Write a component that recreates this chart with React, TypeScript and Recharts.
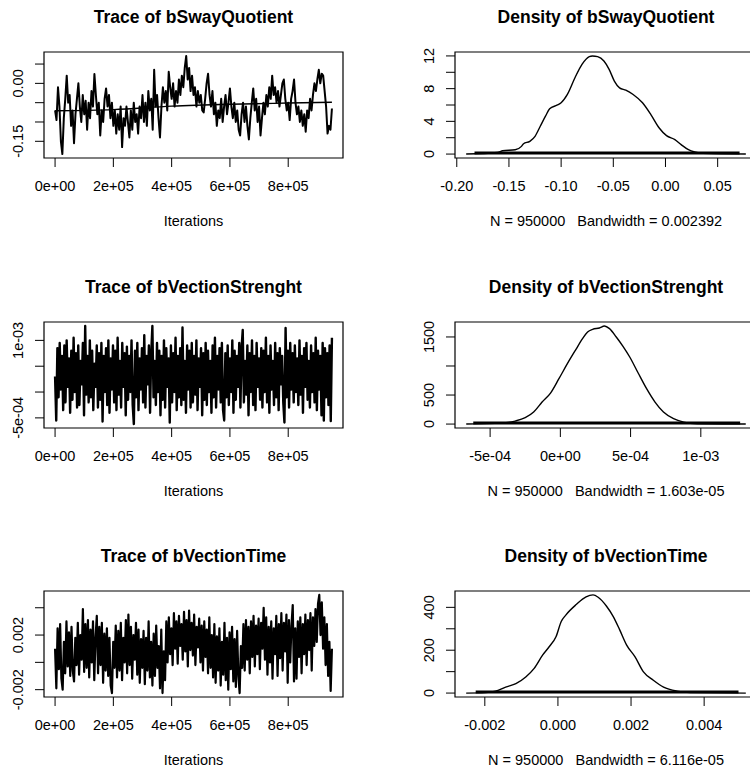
import React from "react";
import { LineChart, Line, XAxis, YAxis, ReferenceArea } from "recharts";

const FONT = '"Liberation Sans", Arial, Helvetica, sans-serif';

// MCMC trace of bSwayQuotient (one value every 5000 iterations)
const traceSway = [
  -0.07, -0.095, -0.01, -0.06, -0.15, -0.183, -0.09, -0.04, 0.02, -0.05,
  -0.03, -0.11, -0.07, -0.155, -0.08, -0.04, 0.0, -0.06, -0.1, -0.03,
  -0.08, -0.045, -0.12, -0.05, -0.09, -0.02, -0.06, 0.024, -0.03, -0.08,
  -0.05, -0.135, -0.07, -0.1, -0.04, -0.013, -0.06, -0.03, -0.09, -0.05,
  -0.11, -0.07, -0.13, -0.08, -0.12, -0.06, -0.165, -0.09, -0.11, -0.06,
  -0.1, -0.14, -0.07, -0.12, -0.05, -0.1, -0.08, -0.13, -0.06, -0.09,
  -0.03, -0.1, -0.05, -0.11, -0.02, -0.07, -0.04, -0.12, 0.035, -0.06,
  -0.03, -0.09, -0.14, -0.06, -0.01, -0.05, -0.02, -0.07, 0.03, -0.01,
  -0.04, 0.0, -0.06, -0.02, -0.05, 0.01, -0.03, 0.02, -0.01, 0.04,
  0.071, 0.01, 0.04, -0.02, 0.02, -0.03, -0.01, -0.06, -0.02, -0.05,
  -0.03, -0.07, -0.075, -0.04, 0.0, 0.025, -0.03, -0.06, -0.02, -0.08,
  -0.05, -0.11, -0.07, -0.09, -0.04, -0.1, -0.06, -0.03, -0.08, -0.05,
  -0.013, -0.06, -0.09, -0.05, -0.1, -0.07, -0.12, -0.135, -0.08, -0.05,
  -0.1, -0.06, -0.11, -0.145, -0.09, -0.05, -0.013, -0.07, -0.04, -0.1,
  -0.06, -0.135, -0.09, -0.05, -0.08, -0.03, -0.06, -0.01, -0.04, 0.02,
  -0.03, -0.01, -0.05, -0.02, -0.06, -0.03, 0.0, 0.01, -0.04, -0.07,
  -0.05, -0.095, -0.04, -0.02, 0.01, -0.05, -0.08, -0.06, -0.1, -0.07,
  -0.11, -0.08, -0.125, -0.07, -0.09, -0.04, -0.07, -0.03, 0.0, -0.02,
  0.01, 0.035, 0.0, 0.025, 0.02, -0.02, -0.06, -0.13, -0.11, -0.12, -0.065
];
const smoothSwayIter = [0, 200000, 400000, 600000, 800000, 950000];
const smoothSway = [-0.071, -0.068, -0.059, -0.054, -0.051, -0.049];

// trace of bVectionStrenght, in units of 1e-5
const traceStrength = [
  30, -55, 85, -10, 95, 5, 70, -35, 90, -20,
  100, 10, 65, -40, 80, -15, 105, 0, 75, -30,
  90, -25, 60, 15, 95, -45, 128, -5, 70, -20,
  100, -10, 80, -35, 55, 10, 90, -30, 75, -15,
  95, -57, 70, 0, 85, -25, 100, -40, 65, 5,
  90, -20, 80, -35, 105, -5, 60, -30, 95, 10,
  75, -45, 88, -15, 70, 0, 100, -25, -62, 80,
  -10, 95, -35, 65, 5, 85, -20, 110, -30, 70,
  15, 90, -40, 75, 128, -10, 60, -25, 95, 0,
  80, -45, 70, -15, 100, -30, 85, 10, 65, -59,
  90, -20, 75, 0, 105, -35, 70, -10, 85, -25,
  125, -15, 60, -40, 90, 5, 80, -30, 95, -20,
  70, -5, 100, -35, 65, 10, 85, -45, 75, -15,
  95, -25, 80, 0, 60, -40, 90, -10, 105, -30,
  70, 5, 85, -20, 95, -35, -55, 75, -10, 90,
  -25, 65, 0, 100, -40, 80, -15, 70, 10, 95,
  -30, 85, 120, -20, 60, -5, 90, -45, 75, 0,
  100, -25, 70, -35, 95, 10, 65, -15, 85, -30,
  80, 0, 105, -20, 70, -40, 90, 5, 60, -25,
  95, -10, 75, -35, 85, 15, 70, -20, -59, 124,
  -10, 80, -30, 95, 5, 75, -20, 90, 0, 65,
  -25, 100, -5, 70, -40, 85, 10, 95, -15, 60,
  -30, 90, 0, 75, -20, 105, -35, 80, 5, 70,
  -45, 95, -55, 85, -10, 75, -25, 90, -56, 105
];

// trace of bVectionTime, in units of 1e-5
const traceTime = [
  100, -190, 250, -50, 280, -120, -200, 150, -80, 300,
  -30, 220, -100, 260, -60, -140, 180, -20, 290, -90,
  200, 20, 390, -70, 280, -40, 310, -110, 240, 0,
  300, -130, 180, 340, -80, 260, -20, 290, -150, 210,
  -60, 250, -100, 180, -170, -225, 150, -40, 270, -110,
  230, -60, 290, -130, 180, 0, 310, -80, 350, -20,
  260, -120, 200, 20, 290, -90, 240, -150, 170, -40,
  230, -160, 180, -60, 300, -110, 150, -170, 210, -100,
  270, -40, 120, -190, 240, -225, 80, -130, 300, 0,
  330, 60, 250, -20, 360, 100, 300, -10, 340, 120,
  280, 20, 370, 80, 310, -30, 380, 90, 290, 50,
  350, -20, 260, 110, 320, 0, 270, -60, 300, 40,
  240, -80, 330, -40, 200, -110, 280, -150, 190, -60,
  250, -170, 150, -90, 290, -130, 180, -200, 220, -50,
  260, -140, 170, -180, 230, -100, -225, 120, -40, 280,
  -60, 310, 20, 260, -80, 300, 40, 340, -30, 270,
  60, 320, -50, 290, 100, 400, 20, 330, -90, 260,
  0, 300, -120, 250, 60, 340, -100, 280, 30, 360,
  -60, 290, 80, 350, -150, 310, 0, 270, 420, -140,
  250, -120, 300, 40, 330, -80, 280, 60, 350, -20,
  310, 90, 360, -60, 330, 120, 390, 150, 430, 494,
  200, 440, 100, 330, -20, 280, -100, 150, -210, 100
];

// kernel density estimates
const densSwayX = [-0.191, -0.161, -0.156, -0.144, -0.138, -0.136, -0.13, -0.125, -0.12, -0.115, -0.111, -0.104, -0.1, -0.094, -0.086, -0.08, -0.073, -0.07, -0.065, -0.059, -0.054, -0.049, -0.044, -0.038, -0.031, -0.022, -0.014, -0.006, 0.001, 0.009, 0.015, 0.022, 0.028, 0.036, 0.077];
const densSwayY = [0, 0.2, 0.4, 0.53, 0.94, 1.27, 1.56, 2.17, 3.4, 4.63, 5.53, 5.98, 6.27, 7.29, 9.54, 10.97, 11.92, 12.0, 11.92, 11.38, 10.36, 8.93, 8.1, 7.82, 7.29, 6.27, 4.83, 3.19, 2.25, 1.76, 1.15, 0.53, 0.25, 0.08, 0];

const densStrengthX = [-6.7e-4, -4.18e-4, -3.22e-4, -2.5e-4, -1.9e-4, -1.3e-4, -0.7e-4, -0.1e-4, 0.5e-4, 1.1e-4, 1.58e-4, 1.94e-4, 2.3e-4, 2.78e-4, 3.14e-4, 3.5e-4, 3.98e-4, 4.46e-4, 4.94e-4, 5.54e-4, 6.14e-4, 6.74e-4, 7.34e-4, 8.06e-4, 8.78e-4, 9.74e-4, 13.2e-4];
const densStrengthY = [0, 17, 52, 109, 207, 379, 534, 782, 1040, 1282, 1471, 1586, 1632, 1655, 1690, 1644, 1500, 1339, 1155, 879, 609, 379, 207, 92, 34, 6, 0];

const densTimeX = [-0.00251, -0.00198, -0.00171, -0.00143, -0.00115, -0.00088, -0.00065, -0.00042, -0.00024, -0.00005, 0.00009, 0.00022, 0.0005, 0.00077, 0.00096, 0.0011, 0.00133, 0.00151, 0.00169, 0.00188, 0.00211, 0.00234, 0.00261, 0.00289, 0.00326, 0.00362, 0.00514];
const densTimeY = [0, 2, 9, 28, 44, 75, 115, 177, 216, 264, 334, 365, 413, 449, 458, 447, 405, 358, 295, 224, 169, 99, 60, 28, 9, 2, 0];

const iterTicks = [0, 200000, 400000, 600000, 800000];
const iterLabels = ["0e+00", "2e+05", "4e+05", "6e+05", "8e+05"];

const toTrace = (vals: number[], scale: number) =>
  vals.map((v, i) => ({ x: (i * 950000) / (vals.length - 1), y: v * scale }));
const toXY = (xs: number[], ys: number[]) => xs.map((x, i) => ({ x, y: ys[i] }));
// observations shown as a line at max(density)/100 over the sample range
const toRug = (vals: number[], scale: number, dens: number[]) => {
  const h = Math.max(...dens) / 100;
  return [
    { x: Math.min(...vals) * scale, y: h },
    { x: Math.max(...vals) * scale, y: h }
  ];
};

type Series = { data: { x: number; y: number }[]; width: number; curve: "linear" | "monotone" };

type PanelProps = {
  left: number;
  top: number;
  width: number;
  plotLeft: number;
  plotRight: number;
  title: string;
  subtitle: string;
  xDomain: [number, number];
  yDomain: [number, number];
  xTicks: number[];
  xLabels: string[];
  yTicks: number[];
  yLabels: string[];
  series: Series[];
};

const PLOT_TOP = 52;
const PLOT_BOTTOM = 158;
const CHART_H = 240;

function Panel(p: PanelProps) {
  const cx = (p.plotLeft + p.plotRight) / 2;
  const yLabX = p.plotLeft - 21;
  return (
    <div style={{ position: "absolute", left: p.left, top: p.top, width: p.width, height: CHART_H }}>
      <LineChart
        width={p.width}
        height={CHART_H}
        margin={{ top: PLOT_TOP, right: p.width - p.plotRight, bottom: 0, left: 0 }}
      >
        <XAxis
          type="number"
          dataKey="x"
          domain={p.xDomain}
          allowDataOverflow
          ticks={p.xTicks}
          interval={0}
          height={CHART_H - PLOT_BOTTOM}
          axisLine={false}
          tickLine={{ stroke: "#000" }}
          tickSize={9}
          tick={(t: any) => (
            <text x={t.x} y={191} textAnchor="middle" fontSize={14.5} fontFamily={FONT} fill="#000">
              {p.xLabels[t.index]}
            </text>
          )}
          label={() => (
            <text
              x={cx}
              y={225.5}
              textAnchor="middle"
              fontSize={14.5}
              fontFamily={FONT}
              fill="#000"
              xmlSpace="preserve"
              style={{ whiteSpace: "pre" }}
            >
              {p.subtitle}
            </text>
          )}
        />
        <YAxis
          type="number"
          dataKey="y"
          domain={p.yDomain}
          allowDataOverflow
          ticks={p.yTicks}
          interval={0}
          width={p.plotLeft}
          axisLine={false}
          tickLine={{ stroke: "#000" }}
          tickSize={9}
          tick={(t: any) => (
            <text
              x={yLabX}
              y={t.y}
              transform={`rotate(-90 ${yLabX} ${t.y})`}
              textAnchor="middle"
              fontSize={14.5}
              fontFamily={FONT}
              fill="#000"
            >
              {p.yLabels[t.index]}
            </text>
          )}
          label={() => (
            <text x={cx} y={22.7} textAnchor="middle" fontSize={17.5} fontWeight="bold" fontFamily={FONT} fill="#000">
              {p.title}
            </text>
          )}
        />
        {p.series.map((s, i) => (
          <Line
            key={i}
            data={s.data}
            dataKey="y"
            type={s.curve}
            stroke="#000"
            strokeWidth={s.width}
            strokeLinejoin="round"
            dot={false}
            activeDot={false}
            isAnimationActive={false}
          />
        ))}
        <ReferenceArea
          x1={p.xDomain[0]}
          x2={p.xDomain[1]}
          y1={p.yDomain[0]}
          y2={p.yDomain[1]}
          fill="none"
          fillOpacity={0}
          stroke="#000"
          strokeWidth={1.2}
        />
      </LineChart>
    </div>
  );
}

const ROWS = [0, 270, 539];
const ITER_DOMAIN: [number, number] = [-38000, 988000];

export default function App() {
  return (
    <div
      style={{
        position: "absolute",
        left: 0,
        top: 0,
        width: 750,
        height: 771,
        overflow: "hidden",
        background: "#fff"
      }}
    >
      <Panel
        left={0}
        top={ROWS[0]}
        width={375}
        plotLeft={44}
        plotRight={343}
        title="Trace of bSwayQuotient"
        subtitle="Iterations"
        xDomain={ITER_DOMAIN}
        yDomain={[-0.1932, 0.0812]}
        xTicks={iterTicks}
        xLabels={iterLabels}
        yTicks={[-0.15, -0.1, -0.05, 0, 0.05]}
        yLabels={["-0.15", "", "", "0.00", ""]}
        series={[
          { data: toTrace(traceSway, 1), width: 2, curve: "linear" },
          { data: toXY(smoothSwayIter, smoothSway), width: 1.4, curve: "monotone" }
        ]}
      />
      <Panel
        left={375}
        top={ROWS[0]}
        width={400}
        plotLeft={80}
        plotRight={382}
        title="Density of bSwayQuotient"
        subtitle="N = 950000   Bandwidth = 0.002392"
        xDomain={[-0.2017, 0.0877]}
        yDomain={[-0.48, 12.48]}
        xTicks={[-0.2, -0.15, -0.1, -0.05, 0, 0.05]}
        xLabels={["-0.20", "-0.15", "-0.10", "-0.05", "0.00", "0.05"]}
        yTicks={[0, 2, 4, 6, 8, 10, 12]}
        yLabels={["0", "", "4", "", "8", "", "12"]}
        series={[
          { data: toXY(densSwayX, densSwayY), width: 1.4, curve: "monotone" },
          { data: toRug(traceSway, 1, densSwayY), width: 3, curve: "linear" }
        ]}
      />
      <Panel
        left={0}
        top={ROWS[1]}
        width={375}
        plotLeft={44}
        plotRight={343}
        title="Trace of bVectionStrenght"
        subtitle="Iterations"
        xDomain={ITER_DOMAIN}
        yDomain={[-6.96e-4, 1.356e-3]}
        xTicks={iterTicks}
        xLabels={iterLabels}
        yTicks={[-5e-4, 0, 5e-4, 1e-3]}
        yLabels={["-5e-04", "", "", "1e-03"]}
        series={[{ data: toTrace(traceStrength, 1e-5), width: 2.4, curve: "linear" }]}
      />
      <Panel
        left={375}
        top={ROWS[1]}
        width={400}
        plotLeft={80}
        plotRight={382}
        title="Density of bVectionStrenght"
        subtitle="N = 950000   Bandwidth = 1.603e-05"
        xDomain={[-7.5e-4, 1.4e-3]}
        yDomain={[-67.6, 1757.6]}
        xTicks={[-5e-4, 0, 5e-4, 1e-3]}
        xLabels={["-5e-04", "0e+00", "5e-04", "1e-03"]}
        yTicks={[0, 500, 1000, 1500]}
        yLabels={["0", "500", "", "1500"]}
        series={[
          { data: toXY(densStrengthX, densStrengthY), width: 1.4, curve: "monotone" },
          { data: toRug(traceStrength, 1e-5, densStrengthY), width: 3, curve: "linear" }
        ]}
      />
      <Panel
        left={0}
        top={ROWS[2]}
        width={375}
        plotLeft={44}
        plotRight={343}
        title="Trace of bVectionTime"
        subtitle="Iterations"
        xDomain={ITER_DOMAIN}
        yDomain={[-0.002538, 0.005228]}
        xTicks={iterTicks}
        xLabels={iterLabels}
        yTicks={[-0.002, 0, 0.002, 0.004]}
        yLabels={["-0.002", "", "0.002", ""]}
        series={[{ data: toTrace(traceTime, 1e-5), width: 2.2, curve: "linear" }]}
      />
      <Panel
        left={375}
        top={ROWS[2]}
        width={400}
        plotLeft={80}
        plotRight={382}
        title="Density of bVectionTime"
        subtitle="N = 950000   Bandwidth = 6.116e-05"
        xDomain={[-0.002816, 0.005446]}
        yDomain={[-18.3, 476.3]}
        xTicks={[-0.002, 0, 0.002, 0.004]}
        xLabels={["-0.002", "0.000", "0.002", "0.004"]}
        yTicks={[0, 100, 200, 300, 400]}
        yLabels={["0", "", "200", "", "400"]}
        series={[
          { data: toXY(densTimeX, densTimeY), width: 1.4, curve: "monotone" },
          { data: toRug(traceTime, 1e-5, densTimeY), width: 3, curve: "linear" }
        ]}
      />
    </div>
  );
}
